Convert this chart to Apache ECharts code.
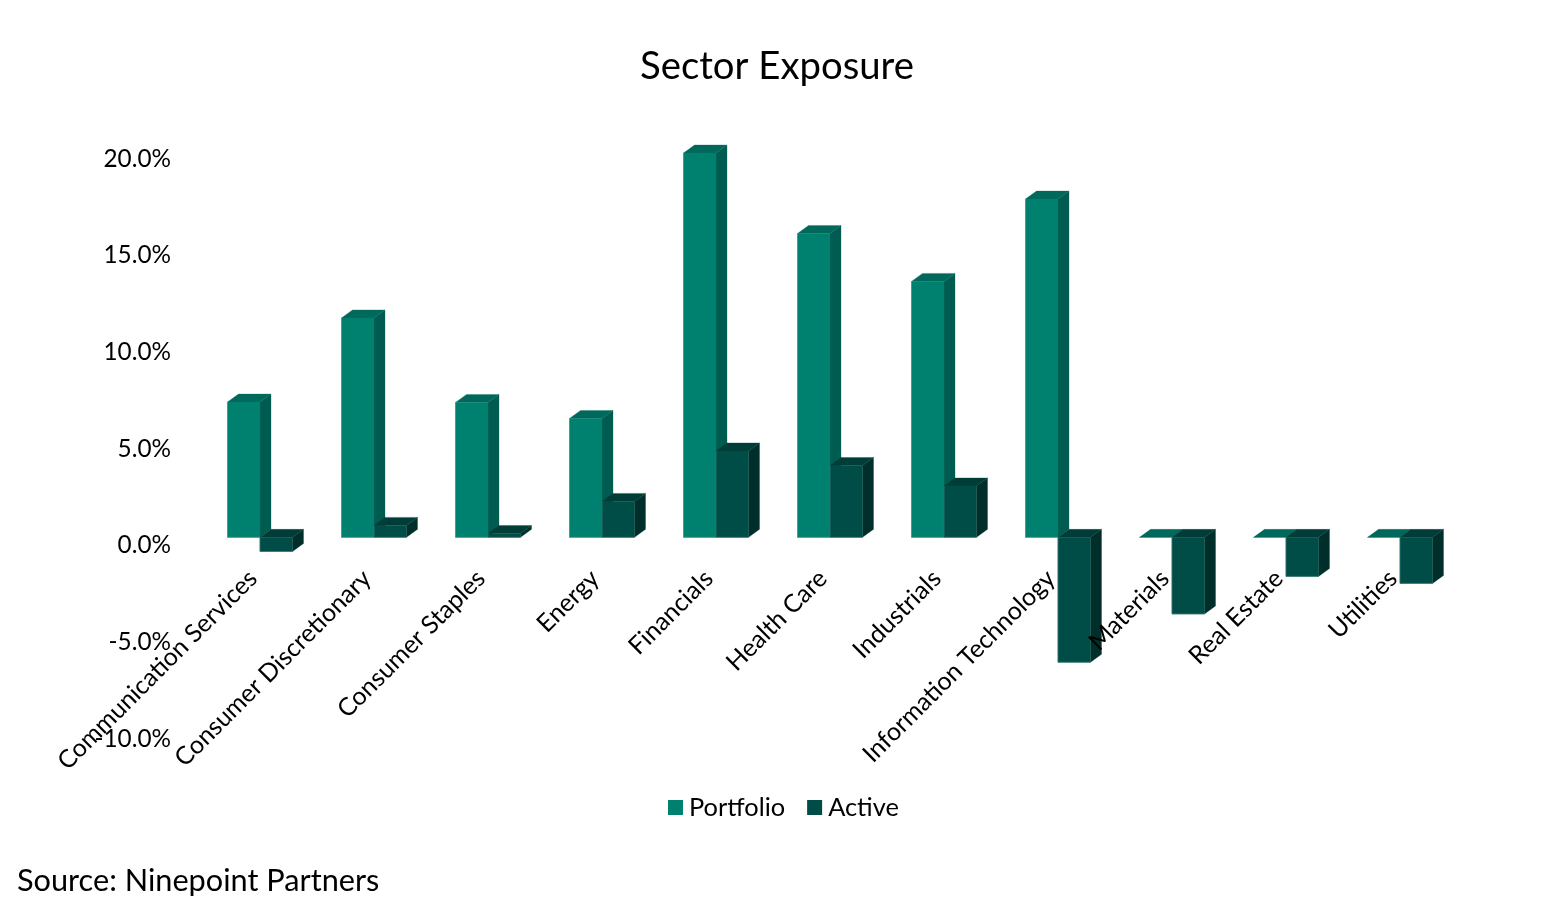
<!DOCTYPE html>
<html>
<head>
<meta charset="utf-8">
<style>html,body{margin:0;padding:0;background:#fff}#c{width:1557px;height:910px}</style>
<script src="https://cdn.jsdelivr.net/npm/echarts@6/dist/echarts.min.js"></script>
</head>
<body>
<div id="c"></div>
<script>
const categories = ["Communication Services","Consumer Discretionary","Consumer Staples","Energy","Financials","Health Care","Industrials","Information Technology","Materials","Real Estate","Utilities"];
const portfolio = [7.0,11.35,6.98,6.15,19.88,15.72,13.24,17.5,0,0,0];
const active = [-0.73,0.62,0.2,1.86,4.47,3.72,2.66,-6.46,-3.96,-2.02,-2.38];
const FONT = 'Lato';
const chart = echarts.init(document.getElementById('c'), null, {renderer:'canvas'});
function prism(colors, dir){
  return function(params, api){
    const i = api.value(0), v = api.value(1);
    const step = api.size([1,0])[0];
    const w = step*32.5/114, dx = 11, dy = -8, liftY = -8.0, liftX = 7;
    const cx = api.coord([i,0])[0] + liftX;
    const y0 = api.coord([i,0])[1] + liftY;
    const yv = api.coord([i,v])[1] + liftY;
    const x1 = dir < 0 ? cx - w : cx;
    const x2 = x1 + w;
    const top = Math.min(y0,yv), bot = Math.max(y0,yv);
    const poly = (pts,fill)=>({type:'polygon',shape:{points:pts},style:{fill:fill,stroke:fill,lineWidth:0.3}});
    return {type:'group',children:[
      poly([[x2,top],[x2+dx,top+dy],[x2+dx,bot+dy],[x2,bot]],colors.side),
      poly([[x1,top],[x1+dx,top+dy],[x2+dx,top+dy],[x2,top]],colors.top),
      poly([[x1,top],[x2,top],[x2,bot],[x1,bot]],colors.front),
      {type:'polyline',shape:{points:[[x1,top],[x1,bot],[x2,bot]]},style:{fill:null,stroke:colors.edge,lineWidth:bot>top?0.8:0}}
    ]};
  };
}
chart.setOption({
  animation:false,
  backgroundColor:'#fff',
  title:[
    {text:'Sector Exposure',left:772,top:43,textAlign:'center',textStyle:{fontFamily:FONT,fontSize:38.3,fontWeight:'normal',color:'#000'}},
    {text:'Source: Ninepoint Partners',left:12,top:861,textStyle:{fontFamily:FONT,fontSize:30.7,fontWeight:'normal',color:'#000'}}
  ],
  legend:{
    left:663,top:790,itemWidth:15,itemHeight:15,itemGap:22,icon:'rect',
    textStyle:{fontFamily:FONT,fontSize:25.4,color:'#000',padding:[0,0,0,1]},
    data:['Portfolio','Active']
  },
  grid:{left:196,top:158.7,width:1254,height:580,outerBoundsMode:'none'},
  xAxis:{
    type:'category',data:categories,z:5,offset:-193.3,
    axisLine:{show:false,onZero:false},axisTick:{show:false},splitLine:{show:false},
    axisLabel:{interval:0,rotate:45,margin:29,fontFamily:FONT,fontSize:25,color:'#000'}
  },
  yAxis:{
    type:'value',min:-10,max:20,interval:5,
    axisLine:{show:false},axisTick:{show:false},splitLine:{show:false},
    axisLabel:{margin:25,fontFamily:FONT,fontSize:24.3,color:'#000',formatter:v=>v.toFixed(1)+'%'}
  },
  series:[
    {name:'Portfolio',type:'custom',z:2,itemStyle:{color:'#00806F'},clip:false,
     data:portfolio.map((v,i)=>[i,v]),encode:{x:0,y:1},
     renderItem:prism({front:'#00806F',side:'#005C50',top:'#00695C',edge:'#3f9c8e'},-1)},
    {name:'Active',type:'custom',z:3,itemStyle:{color:'#004D47'},clip:false,
     data:active.map((v,i)=>[i,v]),encode:{x:0,y:1},
     renderItem:prism({front:'#004D47',side:'#002E2B',top:'#003D38',edge:'#3a7a72'},1)}
  ]
});
</script>
</body>
</html>
